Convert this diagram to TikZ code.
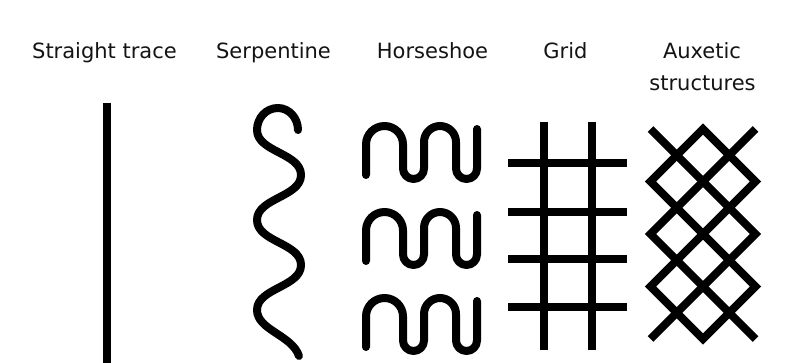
\documentclass[tikz,border=0pt]{standalone}
\usepackage{fontspec}
\setmainfont{DejaVu Sans}
\begin{document}
\begin{tikzpicture}[x=1pt,y=-1pt,
  trace/.style={line width=8pt, black},
  roundtrace/.style={trace, line cap=round, line join=round},
  lbl/.style={font=\fontsize{21}{32}\selectfont, text=black!92, anchor=base, inner sep=0pt}]
\useasboundingbox[fill=white] (0,0) rectangle (791,362);
% labels
\node[lbl] (lstraight) at (104.5,58) {Straight trace};
\node[lbl] (lserp) at (273.5,58) {Serpentine};
\node[lbl] (lhorse) at (432.5,58) {Horseshoe};
\node[lbl] (lgrid) at (565.5,58) {Grid};
\node[lbl] (laux1) at (702,58) {Auxetic};
\node[lbl] (laux2) at (702.5,90) {structures};
% straight trace
\coordinate (s1) at (107,103);
\coordinate (s2) at (107,370);
\draw[trace] (s1) -- (s2);
% serpentine
\draw[roundtrace] (298,130) .. controls (298,118) and (289,108) .. (278,108)
  .. controls (266,108) and (257,118) .. (257,130)
  .. controls (257,152) and (301,153) .. (301,175)
  .. controls (301,197) and (257,198) .. (257,220)
  .. controls (257,242) and (301,243) .. (301,265)
  .. controls (301,287) and (257,288) .. (257,310)
  .. controls (257,330) and (292,335) .. (299,356);
% horseshoe rows
\foreach \T in {126,212,298}{
  \pgfmathsetmacro{\B}{\T+53}
  \draw[roundtrace] (366,\B-4) -- (366,\T+18.5) arc[start angle=180,end angle=360,radius=18.5]
    -- (403,\B-10.5) arc[start angle=180,end angle=0,radius=10.5]
    -- (424,\T+16) arc[start angle=180,end angle=360,radius=16]
    -- (456,\B-10.5) arc[start angle=180,end angle=0,radius=10.5]
    -- (477,\T+3);
}
% grid
\foreach \x in {544,592}{
  \draw[trace] (\x,122) -- (\x,350);
}
\foreach \y in {163,212,259,307}{
  \draw[trace] (508,\y) -- (627,\y);
}
% auxetic
\begin{scope}[line join=miter]
\draw[trace] (650.5,129) -- (755.5,234) -- (650.5,339);
\draw[trace] (755.5,129) -- (650.5,234) -- (755.5,339);
\draw[trace] (703,129) -- (650.5,181.5) -- (755.5,286.5) -- (703,339)
  -- (650.5,286.5) -- (755.5,181.5) -- cycle;
\end{scope}
\end{tikzpicture}
\end{document}
